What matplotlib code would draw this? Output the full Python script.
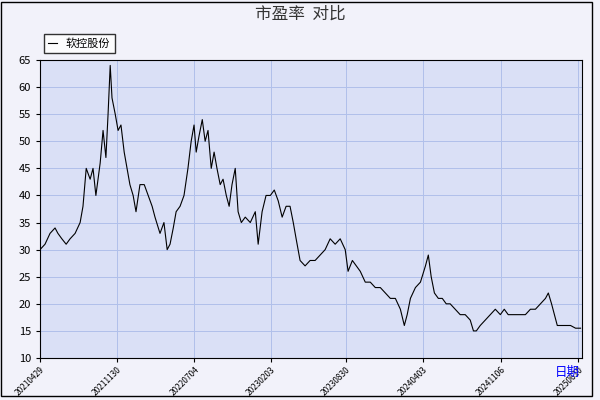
import matplotlib
matplotlib.use("Agg")
import matplotlib.pyplot as plt
import datetime as dt

plt.rcParams['font.family'] = ['Noto Sans CJK SC', 'DejaVu Sans']

start = dt.date(2021, 4, 29)
px = [40,45,50,55,58,62,66,70,75,80,83,86,90,93,96,100,103,106,108,110,112,115,118,121,124,127,130,133,136,140,144,148,152,155,160,164,167,170,173,176,180,184,188,191,194,196,199,202,205,208,211,214,217,220,223,226,229,232,235,238,241,245,250,255,258,262,266,270,274,278,282,286,290,293,296,300,305,310,315,320,325,330,335,340,345,348,352,356,360,365,370,375,380,385,390,395,400,404,407,410,415,420,425,428,431,434,438,442,446,450,455,460,465,470,473,476,480,485,490,495,500,504,508,512,516,520,525,530,535,540,545,548,551,554,557,560,565,570,575,580]
values = [30,31,33,34,33,32,31,32,33,35,38,45,43,45,40,46,52,47,55,64,58,55,52,53,48,45,42,40,37,42,42,40,38,36,33,35,30,31,34,37,38,40,45,50,53,48,51,54,50,52,45,48,45,42,43,40,38,42,45,37,35,36,35,37,31,37,40,40,41,39,36,38,38,35,32,28,27,28,28,29,30,32,31,32,30,26,28,27,26,24,24,23,23,22,21,21,19,16,18,21,23,24,27,29,25,22,21,21,20,20,19,18,18,17,15,15,16,17,18,19,18,19,18,18,18,18,18,19,19,20,21,22,20,18,16,16,16,16,15.5,15.5]
day_offsets = [round((p - 40) * 1503 / 538) for p in px]
dates = [start + dt.timedelta(days=d) for d in day_offsets]
tick_labels = ["20210429","20211130","20220704","20230203","20230830","20240403","20241106","20250610"]
tick_dates = [dt.datetime.strptime(s, "%Y%m%d").date() for s in tick_labels]

fig = plt.figure(figsize=(6, 4), dpi=100, facecolor='#f2f2fa')
ax = fig.add_axes([40/600, 42/400, 542/600, 298/400])
ax.set_facecolor('#dae0f6')
ax.plot(dates, values, color='black', lw=0.8, label='软控股份')
ax.set_ylim(10, 65)
ax.set_yticks(range(10, 66, 5))
ax.set_xlim(start, dt.date(2025, 6, 20))
ax.set_xticks(tick_dates)
ax.set_xticklabels(tick_labels, rotation=45, ha='right', fontsize=6, rotation_mode='anchor')
ax.tick_params(axis='y', labelsize=8, length=3)
ax.tick_params(axis='x', length=3, pad=2)
ax.grid(True, color='#b0c0ea', lw=0.7)
for s in ax.spines.values():
    s.set_color('black')
fig.text(0.5, 0.965, '市盈率  对比', ha='center', va='center', fontsize=12, color='#333333')
fig.legend(loc='upper left', bbox_to_anchor=(38/600, 1 - 28/400), fontsize=8,
           frameon=True, fancybox=False, edgecolor='black', handlelength=0.8)
fig.text(0.925, 0.06, '日期', color='blue', fontsize=9)
fig.patches.append(plt.Rectangle((0.002, 0.01), 0.985, 0.985, transform=fig.transFigure,
                                 fill=False, edgecolor='black', lw=1))
fig.savefig('out.png', dpi=100, facecolor=fig.get_facecolor())
